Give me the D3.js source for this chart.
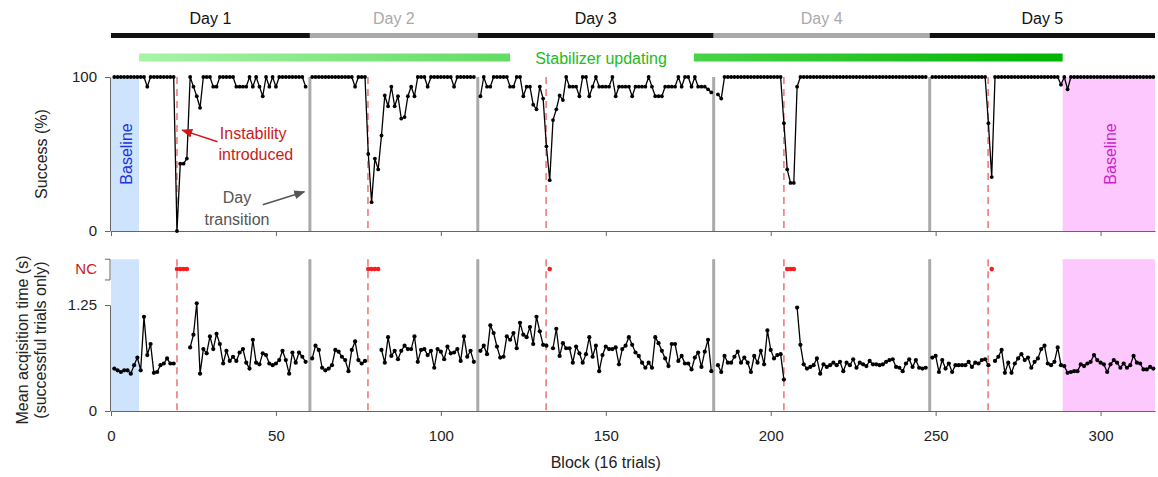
<!DOCTYPE html>
<html lang="en">
<meta charset="utf-8">
<script src="https://cdn.jsdelivr.net/npm/d3@7"></script>
<style>
  body { margin: 0; background: #fff; }
  svg { font-family: "Liberation Sans", Arial, sans-serif; }
  .axis text { font-size: 15px; fill: #222; }
  .axis path, .axis line { stroke: #666; }
</style>
<svg id="chart" width="1158" height="477"></svg>

<script>
// ---- data ----
var dayNames = ["Day 1", "Day 2", "Day 3", "Day 4", "Day 5"];
var dayBounds = [0, 60.3, 111.2, 182.7, 248.2, 316.5];
var dayStart = [1, 61, 112, 184, 249];
var transitions = [60.3, 111.2, 182.7, 248.2];
var instability = [20, 77.9, 131.9, 204, 265.9];
var baselineSpans = [[0, 8.5], [288.5, 316.5]];
var stabilizerSpans = [[8.5, 121], [176.7, 288.5]];
var xTicks = [0, 50, 100, 150, 200, 250, 300];

var success1 = [100,100,100,100,100,100,100,100,100,100,
  93.75,100,100,100,100,100,100,100,100,
  0,43.75,43.75,47,100,93.75,87.5,80,100,100,100,
  93.75,93.75,100,100,100,100,100,93.75,93.75,93.75,
  93.75,100,93.75,100,93.75,87.5,100,93.75,100,93.75,
  100,100,100,100,100,100,100,100,93.75];
var success2 = [100,100,100,100,100,100,100,100,100,100,100,100,100,
  93.75,100,100,100,
  50,18.75,47,40,62,88,81,93.75,81,87.5,73,74,87.5,93.75,87.5,
  100,100,100,93.75,100,100,100,100,100,100,100,93.75,
  100,100,100,100,100,100];
var success3 = [87.5,100,93.75,93.75,100,100,100,100,100,93.75,
  93.75,100,100,87.5,93.75,93.75,82,79,93.75,86,
  55,33,72,79,88,85,100,93.75,93.75,93.75,
  87.5,100,100,87.5,93.75,100,93.75,93.75,93.75,93.75,
  100,87.5,93.75,93.75,93.75,93.75,87.5,93.75,93.75,93.75,
  93.75,100,93.75,87.5,87.5,87.5,93.75,93.75,93.75,93.75,
  100,93.75,100,100,93.75,100,93.75,93.75,93.75,92,90];
var success4 = [88.7,86,
  100,100,100,100,100,100,100,100,100,100,100,100,100,100,100,100,100,100,
  70,40,31.25,31.25,93.75,
  100,100,100,100,100,100,100,100,100,100,100,100,100,100,100,100,100,100,100,100,
  100,100,100,100,100,100,100,100,100,100,100,100,100,100,100,100,100,100,100];
var success5 = [100,100,100,100,100,100,100,100,100,100,100,100,100,100,100,100,100,
  70,35,
  100,100,100,100,100,100,100,100,100,100,100,100,100,100,100,100,100,100,100,100,
  95,100,92,
  100,100,100,100,100,100,100,100,100,100,100,100,100,100,100,100,100,100,100,100,
  100,100,100,100,100,100];

// acquisition time (s); null = NC (no successful trials counted)
var time1 = [0.50,0.48,0.46,0.48,0.48,0.44,0.54,0.63,0.48,1.11,
  0.66,0.79,0.45,0.46,0.54,0.56,0.62,0.56,0.56,
  null,null,null,null,
  0.75,0.90,1.27,0.44,0.73,0.68,0.88,
  0.73,0.91,0.79,0.56,0.71,0.59,0.64,0.59,0.69,0.73,
  0.57,0.50,0.84,0.57,0.55,0.68,0.66,0.56,0.54,0.56,
  0.60,0.71,0.60,0.44,0.69,0.57,0.69,0.64,0.58];
var time2 = [0.62,0.77,0.72,0.51,0.48,0.50,0.54,0.72,0.70,0.64,
  0.60,0.47,0.72,0.82,0.60,0.56,0.59,
  null,null,null,null,
  0.72,0.57,0.87,0.65,0.71,0.61,0.71,0.77,0.73,
  0.73,0.88,0.58,0.72,0.73,0.66,0.71,0.51,0.73,0.70,
  0.61,0.76,0.68,0.69,0.73,0.59,0.88,0.64,0.71,0.58];
var time3 = [0.71,0.77,0.67,1.01,0.92,0.76,0.63,0.64,0.88,0.84,
  0.92,0.74,1.04,0.90,0.87,0.99,0.79,1.11,0.94,0.78,
  0.77,null,
  0.74,0.97,0.65,0.80,0.74,0.74,0.57,0.76,
  0.68,0.57,0.67,0.87,0.64,0.77,0.47,0.66,0.76,0.73,
  0.73,0.75,0.55,0.73,0.77,0.87,0.78,0.69,0.65,0.57,
  0.51,0.57,0.51,0.87,0.80,0.71,0.62,0.53,0.79,0.79,
  0.59,0.65,0.56,0.56,0.49,0.63,0.69,0.52,0.70,0.84,0.47];
var time4 = [0.54,0.46,0.65,0.57,0.57,0.64,0.70,0.57,0.63,0.57,
  0.46,0.65,0.57,0.71,0.55,0.95,0.72,0.62,0.66,0.67,
  0.37,
  null,null,null,
  1.22,0.78,0.55,0.50,0.52,0.54,0.62,0.44,0.55,0.52,
  0.54,0.57,0.54,0.58,0.47,0.57,0.54,0.61,0.51,0.57,
  0.55,0.53,0.59,0.55,0.55,0.54,0.55,0.58,0.60,0.61,
  0.52,0.51,0.47,0.56,0.61,0.52,0.60,0.51,0.50,0.51];
var time5 = [0.63,0.65,0.46,0.60,0.50,0.56,0.46,0.54,0.54,0.54,
  0.54,0.58,0.52,0.57,0.56,0.60,0.61,0.54,
  null,
  0.59,0.64,0.72,0.45,0.57,0.45,0.56,0.62,0.67,0.60,
  0.63,0.51,0.58,0.62,0.73,0.77,0.56,0.54,0.58,0.75,
  0.54,0.53,0.45,0.46,0.47,0.47,0.55,0.53,0.56,0.58,
  0.66,0.60,0.57,0.55,0.46,0.55,0.60,0.57,0.51,0.56,
  0.51,0.54,0.65,0.57,0.56,0.49,0.49,0.52,0.50];

var successDays = [success1, success2, success3, success4, success5];
var timeDays = [time1, time2, time3, time4, time5];

// ---- layout ----
var svg = d3.select("#chart");

var x = d3.scaleLinear().domain([0, 316.5]).range([111, 1155]);
var ySucc = d3.scaleLinear().domain([0, 100]).range([231, 77]);
var yTime = d3.scaleLinear().domain([0, 1.25]).range([411, 305]);
var timeTop = 1.79, ncLevel = 1.675;

var days = successDays.map(function (s, i) {
    return {
        succ: s.map(function (v, j) { return {b: dayStart[i] + j, v: v}; }),
        time: timeDays[i].map(function (v, j) { return {b: dayStart[i] + j, v: v}; })
    };
});

var panels = [
    {y0: ySucc(0), y1: ySucc(100)},
    {y0: yTime(0), y1: yTime(timeTop)}
];

// defs: gradients + arrowheads
var defs = svg.append("defs");
var g1 = defs.append("linearGradient").attr("id", "stab1");
g1.append("stop").attr("offset", "0%").attr("stop-color", "#a8f4a8");
g1.append("stop").attr("offset", "100%").attr("stop-color", "#62dc62");
var g2 = defs.append("linearGradient").attr("id", "stab2");
g2.append("stop").attr("offset", "0%").attr("stop-color", "#48d448");
g2.append("stop").attr("offset", "100%").attr("stop-color", "#00b400");

[["arrRed", "#cc1a1a"], ["arrGray", "#555"]].forEach(function (a) {
    defs.append("marker")
        .attr("id", a[0])
        .attr("markerUnits", "userSpaceOnUse")
        .attr("markerWidth", 11).attr("markerHeight", 9)
        .attr("refX", 10).attr("refY", 4.5)
        .attr("orient", "auto")
        .append("path")
        .attr("d", "M0,0 L11,4.5 L0,9 z")
        .attr("fill", a[1]);
});

// baseline shading
panels.forEach(function (p) {
    baselineSpans.forEach(function (s, i) {
        svg.append("rect")
            .attr("x", x(s[0]))
            .attr("y", p.y1)
            .attr("width", x(s[1]) - x(s[0]))
            .attr("height", p.y0 - p.y1)
            .attr("fill", i == 0 ? "#cde4fc" : "#fdc8fd");
    });
});

// day bars
svg.selectAll(".daybar")
    .data(dayNames)
    .enter()
    .append("rect")
    .attr("x", function (d, i) { return x(dayBounds[i]); })
    .attr("y", 33)
    .attr("width", function (d, i) { return x(dayBounds[i + 1]) - x(dayBounds[i]); })
    .attr("height", 5)
    .attr("fill", function (d, i) { return i % 2 ? "#aaaaaa" : "#111"; });

svg.selectAll(".daylabel")
    .data(dayNames)
    .enter()
    .append("text")
    .attr("x", function (d, i) { return x((dayBounds[i] + dayBounds[i + 1]) / 2); })
    .attr("y", 24)
    .attr("text-anchor", "middle")
    .style("font-size", "16px")
    .attr("fill", function (d, i) { return i % 2 ? "#aaaaaa" : "#111"; })
    .text(function (d) { return d; });

// stabilizer bars
stabilizerSpans.forEach(function (s, i) {
    svg.append("rect")
        .attr("x", x(s[0]))
        .attr("y", 53.5)
        .attr("width", x(s[1]) - x(s[0]))
        .attr("height", 8)
        .attr("fill", "url(#stab" + (i + 1) + ")");
});
svg.append("text")
    .attr("x", 601)
    .attr("y", 64)
    .attr("text-anchor", "middle")
    .style("font-size", "16px")
    .attr("fill", "#22bb22")
    .text("Stabilizer updating");

// transitions and instability markers
panels.forEach(function (p) {
    svg.selectAll(null)
        .data(instability)
        .enter()
        .append("line")
        .attr("x1", function (d) { return x(d); })
        .attr("x2", function (d) { return x(d); })
        .attr("y1", p.y1).attr("y2", p.y0)
        .attr("stroke", "#ea5c5c")
        .attr("stroke-width", 1.3)
        .attr("stroke-dasharray", "7,5");
    svg.selectAll(null)
        .data(transitions)
        .enter()
        .append("line")
        .attr("x1", function (d) { return x(d); })
        .attr("x2", function (d) { return x(d); })
        .attr("y1", p.y1).attr("y2", p.y0)
        .attr("stroke", "#aaaaaa")
        .attr("stroke-width", 3);
});

// axes
svg.append("g")
    .attr("class", "axis")
    .attr("transform", "translate(0," + ySucc(0) + ")")
    .call(d3.axisBottom(x).tickValues(xTicks).tickSize(5).tickSizeOuter(0).tickFormat(""));
svg.append("g")
    .attr("class", "axis")
    .attr("transform", "translate(0," + yTime(0) + ")")
    .call(d3.axisBottom(x).tickValues(xTicks).tickSize(5).tickSizeOuter(0).tickPadding(14));
svg.append("g")
    .attr("class", "axis")
    .attr("transform", "translate(110,0)")
    .call(d3.axisLeft(ySucc).tickValues([0, 100]).tickSize(5).tickSizeOuter(0).tickPadding(8));
svg.append("g")
    .attr("class", "axis")
    .attr("transform", "translate(110,0)")
    .call(d3.axisLeft(yTime).tickValues([0, 1.25]).tickSize(5).tickSizeOuter(0).tickPadding(8)
        .tickFormat(function (d) { return d == 0 ? "0" : d3.format(".2f")(d); }));

// NC bracket
svg.append("path")
    .attr("d", "M105," + yTime(timeTop) + "H110V" + yTime(1.545) + "H105")
    .attr("fill", "none")
    .attr("stroke", "#666");
svg.append("text")
    .attr("x", 97)
    .attr("y", yTime(ncLevel))
    .attr("dy", "0.35em")
    .attr("text-anchor", "end")
    .style("font-size", "15px")
    .attr("fill", "#cc1a1a")
    .text("NC");

// data lines
var lineS = d3.line()
    .x(function (d) { return x(d.b); })
    .y(function (d) { return ySucc(d.v); });
var lineT = d3.line()
    .defined(function (d) { return d.v != null; })
    .x(function (d) { return x(d.b); })
    .y(function (d) { return yTime(d.v); });

days.forEach(function (day) {
    svg.append("path")
        .datum(day.succ)
        .attr("d", lineS)
        .attr("fill", "none")
        .attr("stroke", "#000")
        .attr("stroke-width", 1.3);
    svg.append("g")
        .selectAll("circle")
        .data(day.succ)
        .enter()
        .append("circle")
        .attr("cx", function (d) { return x(d.b); })
        .attr("cy", function (d) { return ySucc(d.v); })
        .attr("r", 1.9)
        .attr("fill", "#000");

    svg.append("path")
        .datum(day.time)
        .attr("d", lineT)
        .attr("fill", "none")
        .attr("stroke", "#000")
        .attr("stroke-width", 1.3);
    svg.append("g")
        .selectAll("circle")
        .data(day.time)
        .enter()
        .append("circle")
        .attr("cx", function (d) { return x(d.b); })
        .attr("cy", function (d) { return d.v == null ? yTime(ncLevel) : yTime(d.v); })
        .attr("r", function (d) { return d.v == null ? 2.3 : 2.1; })
        .attr("fill", function (d) { return d.v == null ? "#ff1a1a" : "#000"; });
});

// annotations
svg.append("text")
    .attr("transform", "translate(" + (x(4.2) + 7) + "," + ySucc(50) + ") rotate(-90)")
    .attr("text-anchor", "middle")
    .style("font-size", "16px")
    .attr("fill", "#2233dd")
    .text("Baseline");
svg.append("text")
    .attr("transform", "translate(" + (x(302.5) + 7) + "," + ySucc(50) + ") rotate(-90)")
    .attr("text-anchor", "middle")
    .style("font-size", "16px")
    .attr("fill", "#cc22cc")
    .text("Baseline");

var instText = svg.append("text")
    .attr("x", x(33))
    .attr("y", ySucc(59.5))
    .style("font-size", "16px")
    .attr("fill", "#cc1a1a");
instText.append("tspan").attr("x", x(33)).text("Instability");
instText.append("tspan").attr("x", x(32.6)).attr("dy", 21).text("introduced");
svg.append("line")
    .attr("x1", x(32.3)).attr("y1", ySucc(58))
    .attr("x2", x(21.6)).attr("y2", ySucc(65.5))
    .attr("stroke", "#cc1a1a").attr("stroke-width", 1.5)
    .attr("marker-end", "url(#arrRed)");

var dayText = svg.append("text")
    .attr("x", x(38.2))
    .attr("y", ySucc(18.5))
    .attr("text-anchor", "middle")
    .style("font-size", "16px")
    .attr("fill", "#555");
dayText.append("tspan").attr("x", x(38.2)).text("Day");
dayText.append("tspan").attr("x", x(38.2)).attr("dy", 22).text("transition");
svg.append("line")
    .attr("x1", x(46)).attr("y1", ySucc(17))
    .attr("x2", x(58.6)).attr("y2", ySucc(25.5))
    .attr("stroke", "#555").attr("stroke-width", 1.5)
    .attr("marker-end", "url(#arrGray)");

// axis titles
svg.append("text")
    .attr("transform", "translate(47," + ySucc(50) + ") rotate(-90)")
    .attr("text-anchor", "middle")
    .style("font-size", "16px")
    .attr("fill", "#222")
    .text("Success (%)");
svg.append("text")
    .attr("transform", "translate(28,340) rotate(-90)")
    .attr("text-anchor", "middle")
    .style("font-size", "16px")
    .attr("fill", "#222")
    .text("Mean acqisition time (s)");
svg.append("text")
    .attr("transform", "translate(46,340) rotate(-90)")
    .attr("text-anchor", "middle")
    .style("font-size", "16px")
    .attr("fill", "#222")
    .text("(successful trials only)");
svg.append("text")
    .attr("x", x(150))
    .attr("y", 468)
    .attr("text-anchor", "middle")
    .style("font-size", "16px")
    .attr("fill", "#222")
    .text("Block (16 trials)");
</script>
</html>
